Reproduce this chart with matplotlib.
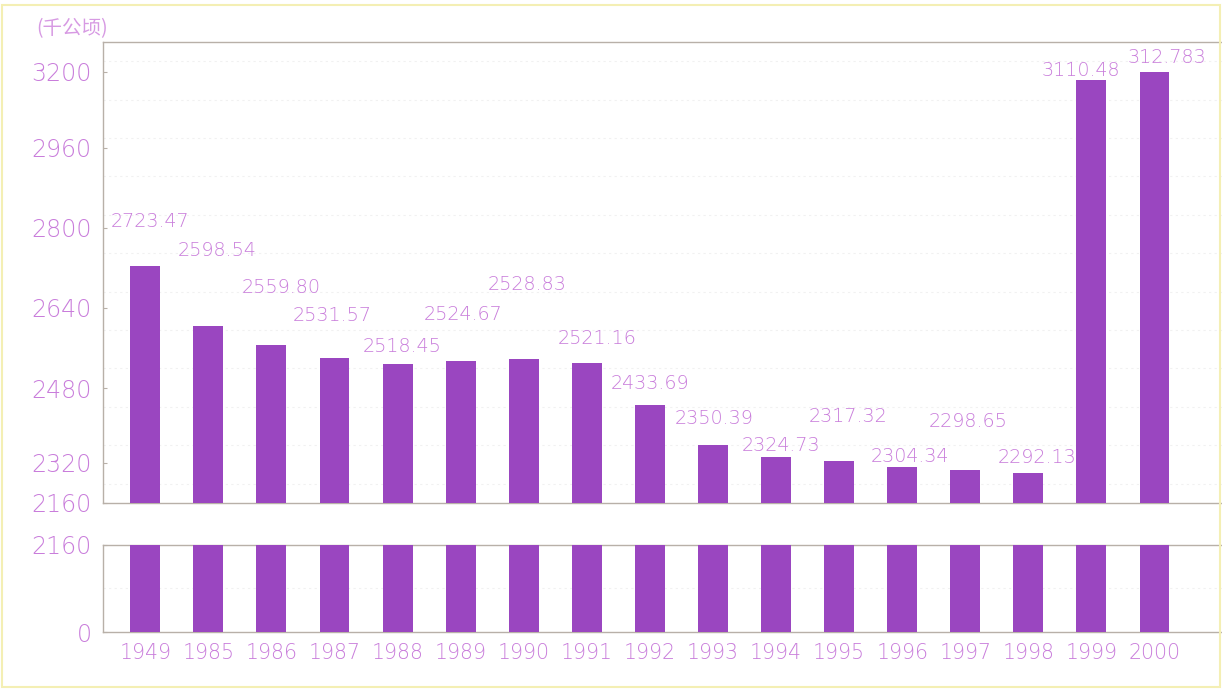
import matplotlib
matplotlib.use('Agg')
import matplotlib.pyplot as plt
from matplotlib.patches import Rectangle

plt.rcParams['font.family'] = ['Liberation Sans', 'Noto Sans CJK SC', 'DejaVu Sans']

years = ['1949', '1985', '1986', '1987', '1988', '1989', '1990', '1991', '1992',
         '1993', '1994', '1995', '1996', '1997', '1998', '1999', '2000']
areas = [2723.47, 2598.54, 2559.80, 2531.57, 2518.45, 2524.67, 2528.83, 2521.16, 2433.69,
         2350.39, 2324.73, 2317.32, 2304.34, 2298.65, 2292.13, 3110.48, 3127.83]
# value labels as printed on the chart (the last one is misprinted in the original)
value_labels = ['2723.47', '2598.54', '2559.80', '2531.57', '2518.45', '2524.67', '2528.83',
                '2521.16', '2433.69', '2350.39', '2324.73', '2317.32', '2304.34', '2298.65',
                '2292.13', '3110.48', '312.783']
top_tick_labels = ['2160', '2320', '2480', '2640', '2800', '2960', '3200']
bottom_tick_labels = ['0', '2160']
unit = '(千公顷)'

# label placement (pixels from bar top) - the scanned original is irregular
label_dx = [5, 9, 10, -2, 5, 2, 3, 10, 0, 1, 5, 9, 8, 3, 9, -11, 12]
label_dy = [44, 75, 57, 43, 18, 47, 75, 25, 22, 27, 12, 44, 11, 48, 16, 10, 14]
# tick spots on the upper axis do not follow the printed numbers linearly
top_tick_pos = [2230, 2313, 2469, 2636, 2803, 2970, 3128]

bar_c = '#9a46c0'
txt_c = '#c97ddb'
line_c = '#b8b0a8'
thin = dict(family=['DejaVu Sans'], fontweight='light')

fig = plt.figure(figsize=(12.22, 6.89), dpi=100)
fig.patches.append(Rectangle((0.002, 0.003), 0.996, 0.99, transform=fig.transFigure,
                             fill=False, edgecolor='#f4efb4', linewidth=1.5))

ax_top = fig.add_axes([0.0843, 0.270, 0.9157, 0.669])
ax_bot = fig.add_axes([0.0843, 0.0827, 0.9157, 0.1264])

x = list(range(len(years)))
for ax in (ax_top, ax_bot):
    ax.bar(x, areas, width=0.475, color=bar_c, zorder=3)
    ax.set_xlim(-0.67, 17.07)
    for s in ('top', 'bottom', 'left'):
        ax.spines[s].set_color(line_c)
        ax.spines[s].set_linewidth(1.0)
    ax.spines['right'].set_visible(False)
    ax.tick_params(axis='y', colors=line_c, labelcolor=txt_c, labelsize=17,
                   length=3, direction='in', pad=8)

ax_top.set_ylim(2229.7, 3190)
ax_top.set_yticks(top_tick_pos)
ax_top.set_yticklabels(top_tick_labels, **thin)
ax_top.set_xticks([])
for g in range(2270, 3190, 80):
    ax_top.axhline(g, color='#f1f1f1', linestyle=(0, (2, 3)), linewidth=0.8, zorder=1)

ax_bot.set_ylim(0, 2160)
ax_bot.set_yticks([0, 2160])
ax_bot.set_yticklabels(bottom_tick_labels, **thin)
ax_bot.axhline(1080, color='#f1f1f1', linestyle=(0, (2, 3)), linewidth=0.8, zorder=1)
ax_bot.set_xticks(x)
ax_bot.set_xticklabels(years, **thin)
ax_bot.tick_params(axis='x', length=0, labelcolor=txt_c, labelsize=14.8, pad=8)

for i, v in enumerate(areas):
    ax_top.annotate(value_labels[i], (x[i], v), xytext=(label_dx[i], label_dy[i]),
                    textcoords='offset pixels', ha='center', va='center',
                    color=txt_c, fontsize=13.8, zorder=4, **thin)

fig.text(0.030, 0.958, unit, color='#d79ae3', fontsize=14, va='center', ha='left',
         family=['Noto Sans CJK SC', 'DejaVu Sans'])

fig.savefig('out.png', dpi=100, facecolor='white')
